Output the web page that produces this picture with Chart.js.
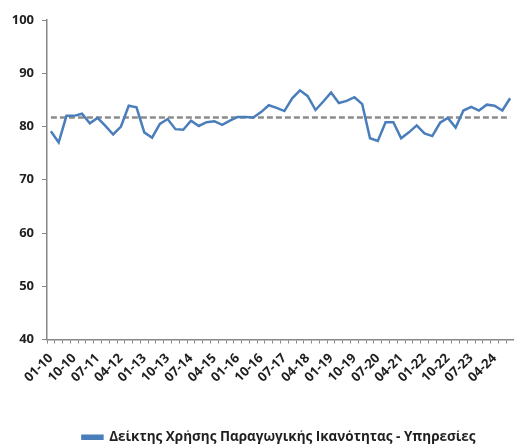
<!DOCTYPE html>
<html>
<head>
<meta charset="utf-8">
<script src="https://cdn.jsdelivr.net/npm/chart.js@4"></script>
<style>
  html, body { margin: 0; padding: 0; background: #fff; }
  #wrap { width: 514px; height: 445px; }
</style>
</head>
<body>
<div id="wrap"><canvas id="capChart" width="514" height="445"></canvas></div>
<script>
// quarters 01-10 ... 10-24 (month-year)
const quarters = [];
for (let y = 10; y <= 24; y++) {
  ['01', '04', '07', '10'].forEach(m => quarters.push(m + '-' + y));
}

// Δείκτης Χρήσης Παραγωγικής Ικανότητας - Υπηρεσίες
const capacityValues = [
  79.1, 77.0, 82.0, 82.0, 82.4, 80.6, 81.6, 80.1, 78.5, 80.0,
  83.9, 83.6, 78.9, 77.9, 80.5, 81.4, 79.5, 79.4, 81.1, 80.1,
  80.8, 81.0, 80.3, 81.1, 81.8, 81.8, 81.7, 82.7, 84.0, 83.5,
  82.9, 85.3, 86.8, 85.7, 83.1, 84.7, 86.4, 84.4, 84.8, 85.5,
  84.2, 77.8, 77.3, 80.8, 80.8, 77.8, 78.9, 80.2, 78.7, 78.2,
  80.7, 81.6, 79.8, 83.0, 83.7, 83.0, 84.1, 83.9, 83.0, 85.3
];

// long-term average (dashed)
const averageLevel = 81.7;
const averageValues = quarters.map(() => averageLevel);

const yTicks = [40, 50, 60, 70, 80, 90, 100];

const seriesLabel = 'Δείκτης Χρήσης Παραγωγικής Ικανότητας - Υπηρεσίες';

const BLUE = '#4a7ebb';
const GREY = '#8c8c8c';
const AXIS = '#868686';
const TEXT = '#1f1f1f';
const FONT = "'Open Sans', 'Liberation Sans', sans-serif";

// nudge the legend box (it sits a bit right of centre and low in the original)
const legendShift = {
  id: 'legendShift',
  afterLayout(chart) {
    const lg = chart.legend;
    if (!lg) return;
    lg.left += 22; lg.right += 22;
    lg.top += 9; lg.bottom += 9;
  }
};

new Chart(document.getElementById('capChart'), {
  type: 'line',
  data: {
    labels: quarters,
    datasets: [
      {
        label: seriesLabel,
        data: capacityValues,
        borderColor: BLUE,
        backgroundColor: BLUE,
        borderWidth: 2.5,
        pointRadius: 0,
        tension: 0
      },
      {
        label: 'avg',
        data: averageValues,
        borderColor: GREY,
        backgroundColor: GREY,
        borderWidth: 2.5,
        borderDash: [6, 3],
        pointRadius: 0,
        tension: 0
      }
    ]
  },
  plugins: [legendShift],
  options: {
    responsive: false,
    animation: false,
    layout: { padding: { top: 20, right: 0, left: 0, bottom: 0 } },
    plugins: {
      tooltip: { enabled: false },
      legend: {
        position: 'bottom',
        labels: {
          filter: item => item.datasetIndex === 0,
          boxWidth: 20,
          boxHeight: 3,
          padding: 0,
          color: TEXT,
          font: { family: FONT, size: 13.5, weight: 'bold' }
        }
      }
    },
    scales: {
      x: {
        offset: true,
        afterFit: s => { s.height = 82; s.paddingLeft = 0; s.paddingRight = 0; },
        border: { color: AXIS, width: 1.5 },
        grid: { drawOnChartArea: false, drawTicks: true, tickLength: 4, color: AXIS, offset: true },
        ticks: {
          autoSkip: false,
          maxRotation: 45,
          minRotation: 45,
          padding: 7,
          color: TEXT,
          font: { family: FONT, size: 13, weight: 'bold' },
          callback: (v, i) => (i % 3 === 0 ? quarters[i] : '')
        }
      },
      y: {
        min: 40,
        max: 100,
        afterFit: s => { s.width = 47; },
        afterBuildTicks: s => { s.ticks = yTicks.map(v => ({ value: v })); },
        border: { color: AXIS, width: 1.5 },
        grid: { drawOnChartArea: false, drawTicks: true, tickLength: 5, color: AXIS },
        ticks: {
          padding: 8,
          color: TEXT,
          font: { family: FONT, size: 13, weight: 'bold' }
        }
      }
    }
  }
});
</script>
</body>
</html>
